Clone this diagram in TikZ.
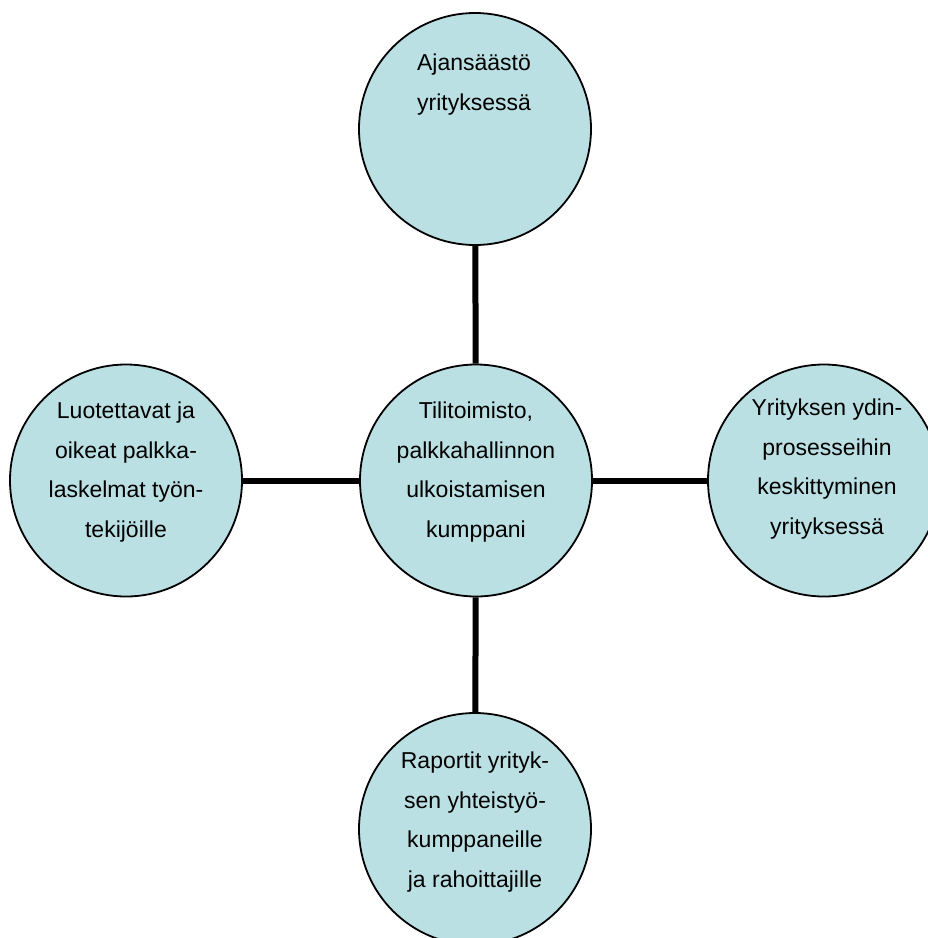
\documentclass[tikz,border=0pt]{standalone}
\usepackage{fontspec}
\setmainfont{Liberation Sans}
\definecolor{bubblefill}{HTML}{BBE0E3}
\begin{document}
\begin{tikzpicture}[x=1pt,y=-1pt,
  bubble/.style={circle,draw=black,line width=1.8pt,fill=bubblefill,minimum size=232pt,inner sep=0pt},
  bubbletext/.style={align=center,anchor=base,font=\fontsize{23}{39.5}\selectfont},
  link/.style={line width=6pt}]
\useasboundingbox (0,0) rectangle (928,938);

% Circles
\node[bubble] (hub) at (476,480.5) {};
\node[bubble] (time) at (475,129) {};
\node[bubble] (payroll) at (126,480.5) {};
\node[bubble] (core) at (824,480.5) {};
\node[bubble] (reports) at (475,829) {};

% Connectors
\draw[link] (time) -- (hub);
\draw[link] (payroll) -- (hub);
\draw[link] (hub) -- (core);
\draw[link] (hub) -- (reports);

% Texts (anchored at the last line)
\node[bubbletext] (hubtext) at (476,537) {Tilitoimisto,\\palkkahallinnon\\ulkoistamisen\\kumppani};
\node[bubbletext] (timetext) at (474,110) {Ajansäästö\\yrityksessä};
\node[bubbletext] (payrolltext) at (126,537) {Luotettavat ja\\oikeat palkka-\\laskelmat työn-\\tekijöille};
\node[bubbletext] (coretext) at (827,534) {Yrityksen ydin-\\prosesseihin\\keskittyminen\\yrityksessä};
\node[bubbletext] (reportstext) at (475,887) {Raportit yrityk-\\sen yhteistyö-\\kumppaneille\\ja rahoittajille};
\end{tikzpicture}
\end{document}
